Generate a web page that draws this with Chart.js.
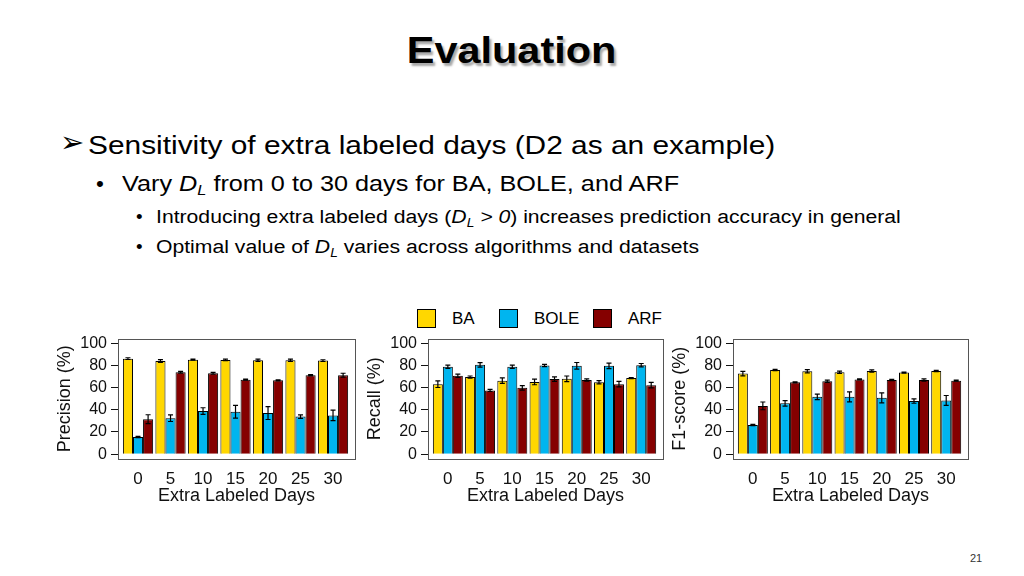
<!DOCTYPE html>
<html>
<head>
<meta charset="utf-8">
<script src="https://cdn.jsdelivr.net/npm/chart.js@4.4.0/dist/chart.umd.min.js"></script>
<style>
  body { margin: 0; width: 1024px; height: 576px; background: #fff; position: relative; overflow: hidden;
         font-family: "Liberation Sans", Arial, sans-serif; color: #000; }
  .t { position: absolute; white-space: nowrap; line-height: 1; transform-origin: 0 0; }
  .title { left: 0; width: 1024px; text-align: center; top: 32px; font-size: 37px; font-weight: bold;
           text-shadow: 2px 3px 2px rgba(0,0,0,0.35); }
  .title span { display: inline-block; transform: scaleX(1.12); }
  i sub { font-size: 0.65em; vertical-align: -0.3em; line-height: 0; }
  .box { position: absolute; width: 19px; height: 19px; box-sizing: border-box; border: 1px solid #000; }
  canvas { position: absolute; }
</style>
</head>
<body>
<div class="t title"><span>Evaluation</span></div>

<div class="t" style="left:60px;top:128px;font-family:'DejaVu Sans';font-size:29px;">&#10146;</div>
<div class="t" style="left:88px;top:131.6px;font-size:26.5px;transform:scaleX(1.127)">Sensitivity of extra labeled days (D2 as an example)</div>

<div class="t" style="left:96px;top:173px;font-size:22.4px;">&bull;</div>
<div class="t" style="left:122px;top:173px;font-size:22.4px;transform:scaleX(1.127)">Vary <i>D<sub>L</sub></i> from 0 to 30 days for BA, BOLE, and ARF</div>

<div class="t" style="left:136px;top:208px;font-size:18.8px;">&bull;</div>
<div class="t" style="left:156px;top:208px;font-size:18.8px;transform:scaleX(1.127)">Introducing extra labeled days (<i>D<sub>L</sub> &gt; 0</i>) increases prediction accuracy in general</div>

<div class="t" style="left:136px;top:238px;font-size:18.8px;">&bull;</div>
<div class="t" style="left:156px;top:238px;font-size:18.8px;transform:scaleX(1.127)">Optimal value of <i>D<sub>L</sub></i> varies across algorithms and datasets</div>

<div id="legend"></div>

<canvas id="precisionChart" width="315" height="185" style="left:50px;top:325px"></canvas>
<canvas id="recallChart" width="313" height="185" style="left:360px;top:325px"></canvas>
<canvas id="f1Chart" width="313" height="185" style="left:665px;top:325px"></canvas>

<div class="t" style="left:970px;top:553px;font-size:11px;color:#333">21</div>

<script>
var days = [0, 5, 10, 15, 20, 25, 30]
var yTicks = [0, 20, 40, 60, 80, 100]
var algos = ['BA', 'BOLE', 'ARF']
var algoColors = ['#FFD700', '#00B5EF', '#850000']

var precisionBA = [86.3, 84.2, 85.4, 85.1, 84.8, 84.8, 84.5]
var precisionBAErr = [0.8, 1.2, 0.5, 0.7, 1, 1, 0.8]
var precisionBOLE = [15.5, 32.5, 38.9, 38.3, 37.1, 33.9, 35]
var precisionBOLEErr = [0.6, 3, 3, 5.7, 5.8, 1.5, 4.7]
var precisionARF = [31.6, 74, 73, 67.3, 66.7, 71.3, 71.3]
var precisionARFErr = [4, 0.8, 0.8, 0.5, 0.5, 0.6, 1.8]

var recallBA = [63.2, 69.6, 66.4, 65.2, 68.1, 64.9, 68.7]
var recallBAErr = [3, 1, 2.5, 2.5, 2.5, 1.5, 0.5]
var recallBOLE = [79, 80.7, 79, 80.1, 79.8, 79.8, 80.4]
var recallBOLEErr = [1.5, 2, 1.5, 1, 3, 2.5, 1.5]
var recallARF = [70.8, 57.6, 59.9, 67.8, 67, 63.2, 62.3]
var recallARFErr = [1.5, 1, 2, 2, 1, 2.5, 2.5]

var f1BA = [72.8, 76, 74.9, 74, 75.1, 73.7, 75.1]
var f1BAErr = [2, 0.5, 1.5, 1, 1, 0.5, 0.5]
var f1BOLE = [26.3, 45.9, 51.8, 51.8, 50.9, 48, 48.5]
var f1BOLEErr = [0.5, 2.5, 2.5, 4.5, 4.5, 2, 4.5]
var f1ARF = [43.6, 64.9, 65.8, 67.5, 67, 67, 66.4]
var f1ARFErr = [3.5, 0.5, 1, 0.5, 0.5, 1, 0.5]

// legend above the middle chart
var legendLeft = [417, 499, 593]
var legend = document.getElementById('legend')
for (var i = 0; i < algos.length; i++) {
  var box = document.createElement('div')
  box.className = 'box'
  box.style.left = legendLeft[i] + 'px'
  box.style.top = '309px'
  box.style.background = algoColors[i]
  legend.appendChild(box)
  var lab = document.createElement('div')
  lab.className = 't'
  lab.style.left = (legendLeft[i] + 35) + 'px'
  lab.style.top = '310px'
  lab.style.fontSize = '17px'
  lab.textContent = algos[i]
  legend.appendChild(lab)
}

var errorBars = {
  id: 'errorBars',
  afterDatasetsDraw(chart) {
    var ctx = chart.ctx
    var yScale = chart.scales.y
    ctx.save()
    ctx.strokeStyle = '#000'
    ctx.lineWidth = 1.2
    chart.data.datasets.forEach((ds, i) => {
      chart.getDatasetMeta(i).data.forEach((bar, j) => {
        var v = ds.data[j].y
        var e = ds.errors[j]
        var top = yScale.getPixelForValue(v + e)
        var bot = yScale.getPixelForValue(v - e)
        ctx.beginPath()
        ctx.moveTo(bar.x, top)
        ctx.lineTo(bar.x, bot)
        ctx.moveTo(bar.x - 2.5, top)
        ctx.lineTo(bar.x + 2.5, top)
        ctx.moveTo(bar.x - 2.5, bot)
        ctx.lineTo(bar.x + 2.5, bot)
        ctx.stroke()
      })
    })
    ctx.restore()
  }
}

var plotBox = {
  id: 'plotBox',
  afterDraw(chart) {
    var a = chart.chartArea
    var ctx = chart.ctx
    ctx.save()
    ctx.strokeStyle = '#555'
    ctx.lineWidth = 1
    ctx.strokeRect(Math.round(a.left) + 0.5, Math.round(a.top) + 0.5, Math.round(a.right - a.left), Math.round(a.bottom - a.top))
    ctx.restore()
  }
}

function makeChart(id, yTitle, series, errs) {
  var ctx = document.getElementById(id).getContext('2d')
  return new Chart(ctx, {
    type: 'bar',
    data: {
      datasets: algos.map((name, k) => ({
        label: name,
        data: days.map((d, i) => ({ x: d, y: series[k][i] })),
        errors: errs[k],
        backgroundColor: algoColors[k],
        borderColor: '#000',
        borderWidth: 1
      }))
    },
    options: {
      responsive: false,
      animation: false,
      datasets: { bar: { barPercentage: 1, categoryPercentage: 0.93, inflateAmount: 0 } },
      layout: { padding: { left: 0, right: 10, top: 10, bottom: 0 } },
      plugins: { legend: { display: false }, tooltip: { enabled: false } },
      scales: {
        x: {
          type: 'linear',
          offset: false,
          min: -3.08,
          max: 33.38,
          afterBuildTicks: (s) => { s.ticks = days.map(v => ({ value: v })) },
          afterFit: (s) => { s.height = 51 },
          grid: { display: false, drawTicks: false, offset: false },
          border: { display: false },
          ticks: { color: '#111', padding: 10, maxRotation: 0, font: { family: 'Liberation Sans', size: 17 } },
          title: { display: true, text: 'Extra Labeled Days', color: '#111', padding: { top: 0, bottom: 3 },
                   font: { family: 'Liberation Sans', size: 18 } }
        },
        y: {
          min: -4.4,
          max: 104.4,
          afterBuildTicks: (s) => { s.ticks = yTicks.map(v => ({ value: v })) },
          afterFit: (s) => { s.width = 68 },
          grid: { drawOnChartArea: false, drawTicks: true, tickLength: 7, color: '#111' },
          border: { display: false },
          ticks: { color: '#111', padding: 4, font: { family: 'Liberation Sans', size: 16 } },
          title: { display: true, text: yTitle, color: '#111', padding: { top: 4, bottom: 0 },
                   font: { family: 'Liberation Sans', size: 18 } }
        }
      }
    },
    plugins: [errorBars, plotBox]
  })
}

makeChart('precisionChart', 'Precision (%)', [precisionBA, precisionBOLE, precisionARF], [precisionBAErr, precisionBOLEErr, precisionARFErr])
makeChart('recallChart', 'Recall (%)', [recallBA, recallBOLE, recallARF], [recallBAErr, recallBOLEErr, recallARFErr])
makeChart('f1Chart', 'F1-score (%)', [f1BA, f1BOLE, f1ARF], [f1BAErr, f1BOLEErr, f1ARFErr])
</script>
</body>
</html>
